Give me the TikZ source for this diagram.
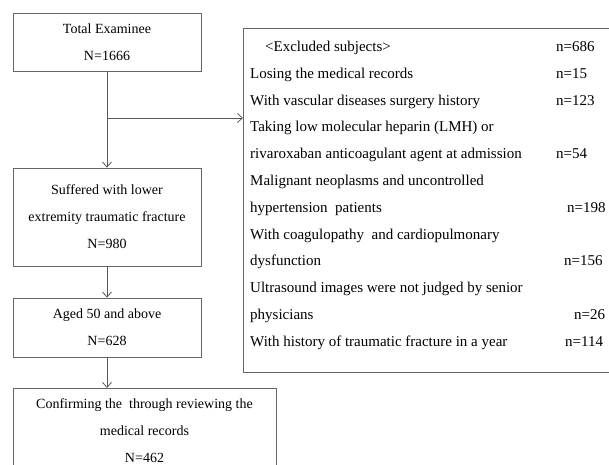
\documentclass[tikz,border=0pt]{standalone}
\usepackage{fontspec}
\setmainfont{Liberation Serif}
\usetikzlibrary{arrows.meta}

\begin{document}
\begin{tikzpicture}[x=1pt,y=-1pt,
      box/.style={draw=black!60,line width=0.8pt,align=center,font=\fontsize{14}{27}\selectfont,inner sep=0pt},
      row/.style={anchor=west,font=\fontsize{15}{16}\selectfont,inner sep=0pt,text height=10pt,text depth=3pt},
      arr/.style={draw=black!65,line width=0.8pt,-{Straight Barb[length=5pt,width=9pt]}}
      ]
      \useasboundingbox (0,0) rectangle (609,464);
      \node[box,minimum width=188pt,minimum height=58pt] (total) at (107,42) {Total Examinee\\N=1666};
      \node[box,minimum width=188pt,minimum height=98pt] (fracture) at (107,217) {Suffered with lower\\extremity traumatic fracture\\N=980};
      \node[box,minimum width=188pt,minimum height=59pt] (aged) at (107,327.5) {Aged 50 and above\\N=628};
      \node[box,minimum width=263pt,minimum height=84pt,anchor=north] (confirm) at (144.5,388) {Confirming the\ \ through reviewing the\\medical records\\N=462};
      \node[box,minimum width=380pt,minimum height=344pt,anchor=north west] (excl) at (243,28) {};

      \foreach \txt [count=\i] in {\hspace{15pt}<Excluded subjects>,Losing the medical records,With vascular diseases surgery history,Taking low molecular heparin (LMH) or,rivaroxaban anticoagulant agent at admission,Malignant neoplasms and uncontrolled,hypertension\ \ patients,With coagulopathy\ \ and cardiopulmonary,dysfunction,Ultrasound images were not judged by senior,physicians,With history of traumatic\ fracture in a year}{
        \node[row] (row\i) at (250,{48+(\i-1)*26.8}) {\txt};
      }
      \foreach \i/\x/\n in {1/556/686,2/556/15,3/556/123,5/556/54,7/567/198,9/564/156,11/574/26,12/565/114}{
        \node[row] (num\i) at (\x,{48+(\i-1)*26.8}) {n=\n};
      }

      \coordinate (branch) at (107,118);
      \draw[arr] (total) -- (fracture);
      \draw[arr] (branch) -- (branch -| excl.west);
      \draw[arr] (fracture) -- (aged);
      \draw[arr] (aged) -- (aged.south |- confirm.north);
    \end{tikzpicture}
\end{document}
